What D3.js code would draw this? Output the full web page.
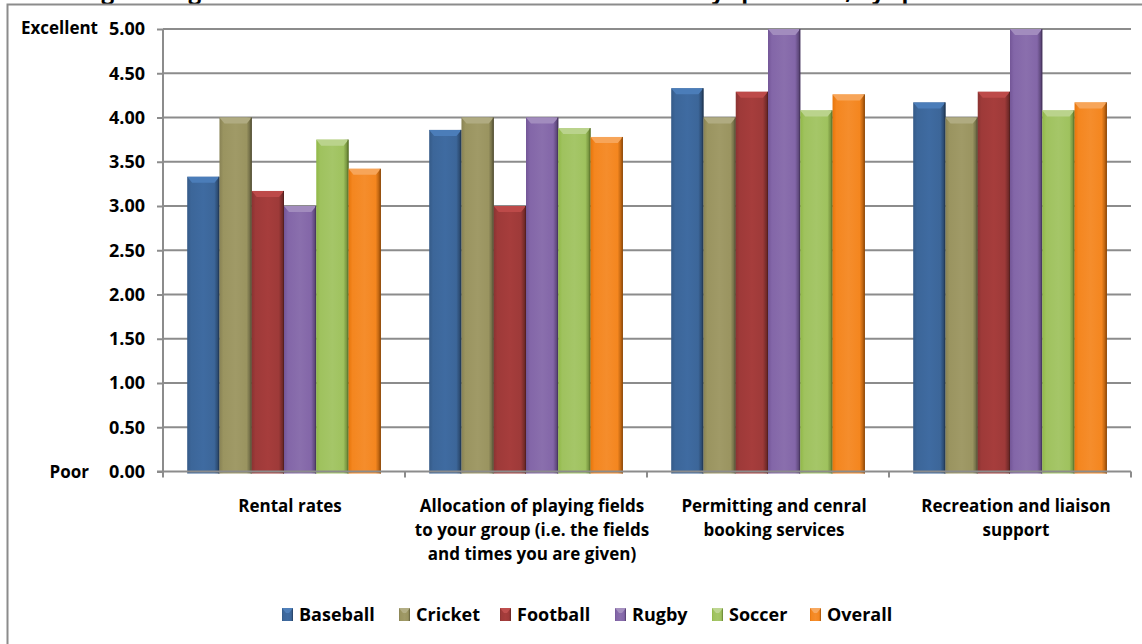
<!DOCTYPE html>
<html>
<head>
<meta charset="utf-8">
<script src="https://cdn.jsdelivr.net/npm/d3@7"></script>
<style>
  html, body { margin: 0; padding: 0; background: #fff; }
  svg { display: block; }
  text { font-family: "Open Sans", Lato, Arial, sans-serif; font-weight: bold; fill: #000; }
</style>
</head>
<body>
<svg id="chart" width="1142" height="644"></svg>
<script>
// Survey categories (x axis groups)
const categories = [
  ["Rental rates"],
  ["Allocation of playing fields", "to your group (i.e. the fields", "and times you are given)"],
  ["Permitting and cenral", "booking services"],
  ["Recreation and liaison", "support"]
];
const categoryKeys = categories.map(c => c.join(" "));

// Respondent groups (series)
const series = ["Baseball", "Cricket", "Football", "Rugby", "Soccer", "Overall"];
const seriesColors = ["#3c6699", "#9a9460", "#9e3a39", "#8366a8", "#9fc25e", "#f4861f"];

// Average ratings, one array per series, in category order
const baseball = [3.33, 3.86, 4.33, 4.17];
const cricket  = [4.00, 4.00, 4.00, 4.00];
const football = [3.17, 3.00, 4.29, 4.29];
const rugby    = [3.00, 4.00, 5.00, 5.00];
const soccer   = [3.75, 3.88, 4.08, 4.08];
const overall  = [3.42, 3.78, 4.26, 4.17];
const values = [baseball, cricket, football, rugby, soccer, overall];

// Y axis ticks
const yTicks = [0, 0.5, 1, 1.5, 2, 2.5, 3, 3.5, 4, 4.5, 5];

const titleText = "Average rating of satisfaction with the Recreation Division by sport field, by sport association";

const svg = d3.select("#chart");
const plotLeft = 163, plotRight = 1131, plotTop = 29, plotBottom = 471.5;

const x = d3.scaleBand().domain(categoryKeys).range([plotLeft, plotRight]).padding(0);
const xs = d3.scaleBand().domain(series).range([0, x.bandwidth()]).paddingInner(0).paddingOuter(0.75);
const y = d3.scaleLinear().domain([0, 5]).range([plotBottom, plotTop]);

// Title (runs above the frame)
svg.append("text")
  .attr("x", 36).attr("y", -1.5)
  .style("font-size", "22.5px")
  .text(titleText);

// Chart frame
svg.append("rect")
  .attr("x", 7.5).attr("y", 4.5)
  .attr("width", 1160).attr("height", 660)
  .attr("fill", "none").attr("stroke", "#8c8c8c").attr("stroke-width", 2);

// Gradients for the bevelled bars
const defs = svg.append("defs");
function shade(c, k) {
  const h = d3.hsl(c);
  h.l = Math.max(0, Math.min(1, h.l * k));
  return h.formatHex();
}
series.forEach((s, i) => {
  const c = seriesColors[i];
  const g = defs.append("linearGradient").attr("id", "grad" + i)
    .attr("x1", 0).attr("x2", 1).attr("y1", 0).attr("y2", 0);
  g.append("stop").attr("offset", 0).attr("stop-color", shade(c, 0.88));
  g.append("stop").attr("offset", 0.12).attr("stop-color", c);
  g.append("stop").attr("offset", 0.5).attr("stop-color", shade(c, 1.05));
  g.append("stop").attr("offset", 0.84).attr("stop-color", c);
  g.append("stop").attr("offset", 1).attr("stop-color", shade(c, 0.6));
});

// Horizontal gridlines
svg.append("g").selectAll("line")
  .data(yTicks.filter(t => t > 0))
  .join("line")
  .attr("x1", plotLeft).attr("x2", plotRight)
  .attr("y1", d => y(d)).attr("y2", d => y(d))
  .attr("stroke", "#8c8c8c").attr("stroke-width", 2);

// Bars
const groups = svg.append("g").selectAll("g")
  .data(categoryKeys)
  .join("g")
  .attr("transform", d => `translate(${x(d)},0)`);

groups.each(function(cat, ci) {
  const g = d3.select(this);
  series.forEach((s, si) => {
    const v = values[si][ci];
    const bx = xs(s), bw = xs.bandwidth(), by = y(v);
    const bh = y(0) - by + 2;
    g.append("rect")
      .attr("x", bx).attr("y", by).attr("width", bw).attr("height", bh)
      .attr("fill", `url(#grad${si})`);
    // top bevel
    const b = 5;
    g.append("path")
      .attr("d", `M${bx},${by} L${bx + bw},${by} L${bx + bw - b},${by + b + 1} L${bx + b},${by + b + 1} Z`)
      .attr("fill", shade(seriesColors[si], 1.22));
    // thin dark edge on the right side
    g.append("line")
      .attr("x1", bx + bw - 0.5).attr("x2", bx + bw - 0.5)
      .attr("y1", by).attr("y2", by + bh)
      .attr("stroke", shade(seriesColors[si], 0.55)).attr("stroke-width", 1);
  });
});

// Y axis
const yAxis = svg.append("g")
  .attr("transform", `translate(${plotLeft},0)`)
  .call(d3.axisLeft(y).tickValues(yTicks).tickFormat(d3.format(".2f")).tickSize(6).tickPadding(12));
yAxis.select(".domain").attr("stroke", "#8c8c8c").attr("stroke-width", 2).attr("d", `M0,${plotTop}V${plotBottom}`);
yAxis.selectAll(".tick line").attr("stroke", "#8c8c8c").attr("stroke-width", 2);
yAxis.selectAll(".tick text")
  .style("font-size", "18px")
  .style("font-family", "'Open Sans', sans-serif")
  .attr("fill", "#000");

// End labels for the rating scale
svg.append("text").attr("x", 98).attr("y", y(5) + 5).attr("text-anchor", "end")
  .style("font-size", "17px").text("Excellent");
svg.append("text").attr("x", 89).attr("y", y(0) + 6).attr("text-anchor", "end")
  .style("font-size", "17px").text("Poor");

// X axis line and tick marks at category boundaries
svg.append("line").attr("x1", plotLeft - 6).attr("x2", plotRight)
  .attr("y1", plotBottom).attr("y2", plotBottom)
  .attr("stroke", "#8c8c8c").attr("stroke-width", 2);
svg.append("g").selectAll("line")
  .data(categoryKeys.map(k => x(k)).concat([plotRight]))
  .join("line")
  .attr("x1", d => d).attr("x2", d => d)
  .attr("y1", plotBottom).attr("y2", plotBottom + 6)
  .attr("stroke", "#8c8c8c").attr("stroke-width", 2);

// Category labels
const catLabels = svg.append("g").selectAll("text")
  .data(categories)
  .join("text")
  .attr("x", (d, i) => x(categoryKeys[i]) + x.bandwidth() / 2 + 6)
  .attr("y", 512)
  .attr("text-anchor", "middle")
  .style("font-size", "17px");
catLabels.selectAll("tspan")
  .data(d => d)
  .join("tspan")
  .attr("x", function() { return d3.select(this.parentNode).attr("x"); })
  .attr("dy", (d, i) => i === 0 ? 0 : 24)
  .text(d => d);

// Legend
const legendX = [282, 399, 500, 615, 712, 810];
const legend = svg.append("g").selectAll("g")
  .data(series)
  .join("g")
  .attr("transform", (d, i) => `translate(${legendX[i]},608)`);
legend.append("rect")
  .attr("width", 11).attr("height", 13)
  .attr("fill", (d, i) => `url(#grad${i})`);
legend.append("path")
  .attr("d", "M0,0 H11 L7,5 H4 Z")
  .attr("fill", (d, i) => shade(seriesColors[i], 1.25));
legend.append("text")
  .attr("x", 17).attr("y", 13)
  .style("font-size", "18px")
  .text(d => d);
</script>
</body>
</html>
